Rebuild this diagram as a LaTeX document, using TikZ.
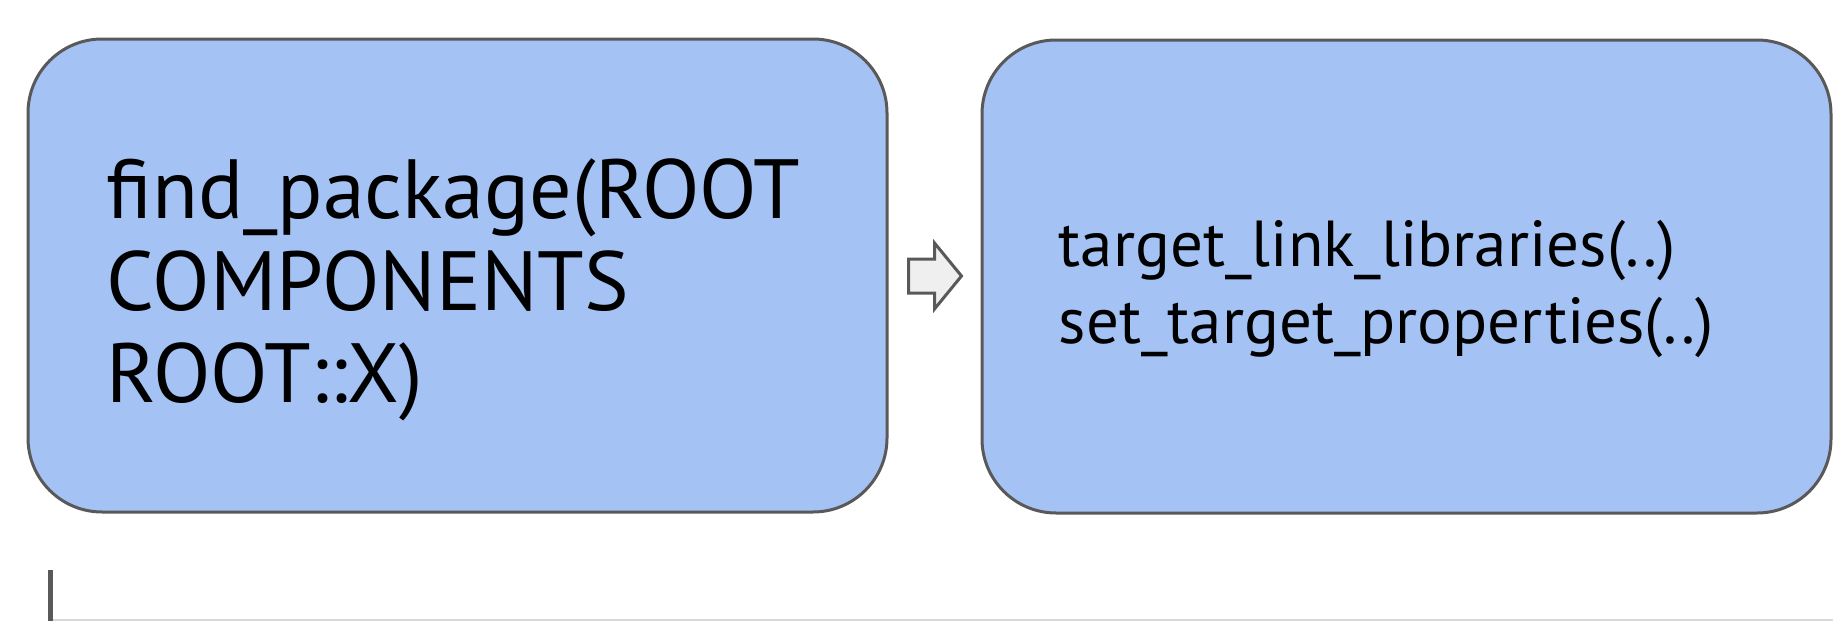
\documentclass[tikz,border=0pt]{standalone}
\usepackage{fontspec}
\setmainfont{PT Sans}
\usetikzlibrary{calc}
\definecolor{boxfill}{HTML}{A4C2F4}
\definecolor{edge}{HTML}{595959}
\definecolor{arrowfill}{HTML}{EFEFEF}
\definecolor{rule}{HTML}{D9D9D9}
\tikzset{
  stagebox/.style={draw=edge, fill=boxfill, line width=1.5pt, rounded corners=37pt,
    inner sep=0pt, anchor=center},
  stagetext/.style={align=left, inner sep=0pt, anchor=west},
  blockarrow/.style={draw=edge, fill=arrowfill, line width=1.5pt, line join=miter},
}
\begin{document}
\begin{tikzpicture}[x=0.5pt, y=-0.5pt]
  \useasboundingbox (0,0) rectangle (1833,621);

  % first stage: locating ROOT
  \node[stagebox, minimum width=429.5pt, minimum height=236.5pt] (find) at (457.5,275.5) {};
  \node[stagetext, font=\fontsize{42}{46}\selectfont] (findtext) at ($(find.west)+(80,14)$)
    {find\_package(ROOT\\COMPONENTS\\ROOT::X)};

  % second stage: linking the target
  \node[stagebox, minimum width=424.5pt, minimum height=236.5pt] (link) at (1406.5,276.5) {};
  \node[stagetext, font=\fontsize{32.5}{38.5}\selectfont] (linktext) at ($(link.west)+(78,13)$)
    {target\_link\_libraries(..)\\set\_target\_properties(..)};

  % block arrow between the two stages
  \coordinate (mid) at ($(find.east)!0.5!(link.west)$);
  \draw[blockarrow] ($(mid)+(-26,-17)$) -- ($(mid)+(0,-17)$) -- ($(mid)+(0,-33)$)
    -- ($(mid)+(27,0)$) -- ($(mid)+(0,33)$) -- ($(mid)+(0,17)$)
    -- ($(mid)+(-26,17)$) -- cycle;

  % start of the next row
  \coordinate (rowtop) at (50,570);
  \coordinate (rowcorner) at (50,621);
  \coordinate (rowend) at (1833,620);
  \draw[rule, line width=1pt] (50,620) -- (rowend);
  \draw[edge, line width=2.5pt] (rowtop) -- (rowcorner);
\end{tikzpicture}
\end{document}
